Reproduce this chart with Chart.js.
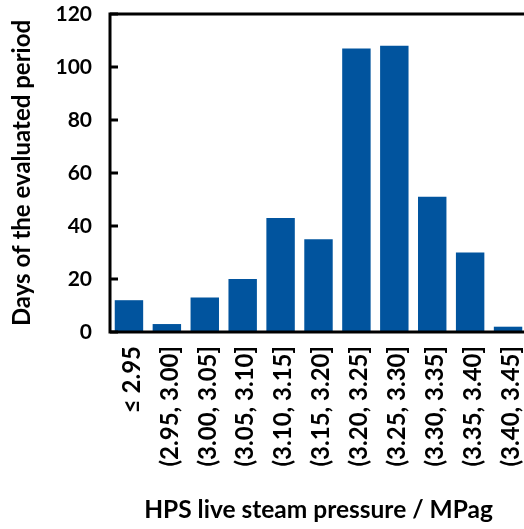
<!DOCTYPE html>
<html>
<head>
<meta charset="utf-8">
<script src="https://cdn.jsdelivr.net/npm/chart.js@4/dist/chart.umd.min.js"></script>
<style>
  html, body { margin:0; padding:0; background:#fff; overflow:hidden; }
  #wrap { width:528px; height:529px; position:relative; }
</style>
</head>
<body>
<div id="wrap"><canvas id="chart"></canvas></div>
<script>
// pressure bins and day counts
const bins = ['≤ 2.95','(2.95, 3.00]','(3.00, 3.05]','(3.05, 3.10]','(3.10, 3.15]','(3.15, 3.20]',
              '(3.20, 3.25]','(3.25, 3.30]','(3.30, 3.35]','(3.35, 3.40]','(3.40, 3.45]'];
const days = [12, 3, 13, 20, 43, 35, 107, 108, 51, 30, 2];
const yTicks = [0, 20, 40, 60, 80, 100, 120];

const FONT = 'Lato, "Open Sans", sans-serif';

// black frame plus inward tick marks, like the original spreadsheet chart
const frame = {
  id: 'frame',
  afterDatasetsDraw(chart){
    const { ctx, chartArea:a, scales } = chart;
    ctx.save();
    ctx.strokeStyle = '#000';
    ctx.lineWidth = 3;
    ctx.strokeRect(a.left, a.top, a.right - a.left, a.bottom - a.top);
    yTicks.forEach(v => {
      const y = scales.y.getPixelForValue(v);
      ctx.beginPath();
      ctx.moveTo(a.left, y);
      ctx.lineTo(a.left + 8, y);
      ctx.stroke();
    });
    ctx.restore();
  }
};

new Chart(document.getElementById('chart'), {
  type: 'bar',
  data: {
    labels: bins,
    datasets: [{
      data: days,
      backgroundColor: '#01549E',
      borderWidth: 0,
      barPercentage: 0.75,
      categoryPercentage: 1
    }]
  },
  options: {
    responsive: true,
    maintainAspectRatio: false,
    animation: false,
    layout: { padding: { top: 14, right: 1, left: 0, bottom: 0 } },
    plugins: { legend: { display:false }, tooltip: { enabled:false } },
    scales: {
      x: {
        grid: { display:false, drawTicks:false },
        border: { display:false },
        ticks: { color:'#000', font:{ family:FONT, size:24, weight:'bold' }, minRotation:90, maxRotation:90, padding:14, labelOffset:3, autoSkip:false },
        title: { display:true, text:'HPS live steam pressure / MPag', color:'#000', font:{ family:FONT, size:24.5, weight:'bold' }, padding:{ top:4, bottom:4 } },
        afterFit(s){ s.height = 197; s.paddingLeft = 0; s.paddingRight = 0; }
      },
      y: {
        min: 0, max: 120,
        afterBuildTicks(s){ s.ticks = yTicks.map(v => ({ value:v })); },
        grid: { display:false, drawTicks:false },
        border: { display:false },
        ticks: { color:'#000', font:{ family:FONT, size:21, weight:'bold' }, padding:18 },
        title: { display:true, text:'Days of the evaluated period', color:'#000', font:{ family:FONT, size:24, weight:'bold' }, padding:{ top:8, bottom:0 } },
        afterFit(s){ s.width = 110; s.paddingTop = 0; s.paddingBottom = 0; }
      }
    }
  },
  plugins: [frame]
});
</script>
</body>
</html>
